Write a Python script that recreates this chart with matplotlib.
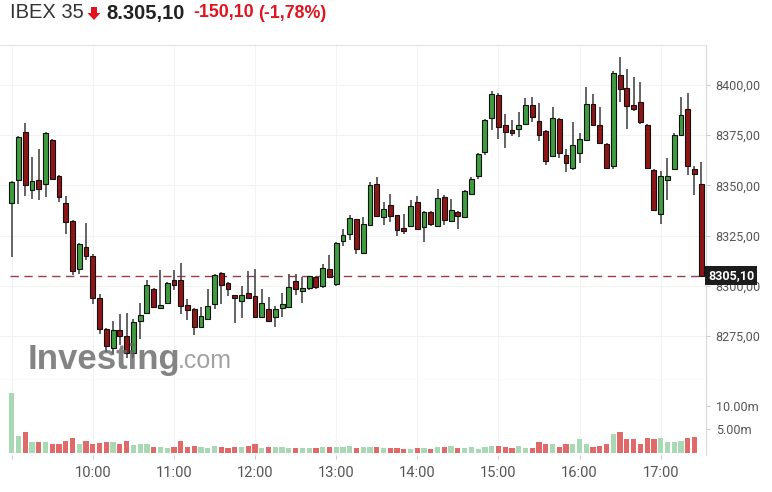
import numpy as np
import matplotlib
matplotlib.use("Agg")
import matplotlib.pyplot as plt
from matplotlib.patches import Polygon
from matplotlib.ticker import FuncFormatter

# 5-minute candles, 09:00 -> 17:30
opens = [8341, 8352.5, 8376.5, 8347.5, 8352.5, 8350.5, 8372.5, 8354.5, 8341, 8332.5,
         8308.5, 8319.5, 8315, 8294, 8278.5, 8269, 8278, 8275, 8266.5, 8282.5,
         8286.5, 8298.5, 8289, 8291.5, 8303, 8303, 8290.5, 8288.5, 8279.5, 8283.5,
         8291, 8306.5, 8301.5, 8295.5, 8292.5, 8296.5, 8295, 8284.5, 8288.5, 8284.5,
         8289, 8289.5, 8302.5, 8297.5, 8299, 8304.5, 8300, 8308.5, 8301, 8322.5,
         8326, 8333.5, 8316.5, 8330.5, 8350.5, 8334.5, 8340, 8335.5, 8329, 8330,
         8341.5, 8329.5, 8336.5, 8330, 8344, 8332.5, 8336.5, 8334.5, 8345.5, 8354.5,
         8366.5, 8383.5, 8395, 8380, 8377.5, 8378, 8380.5, 8390, 8382, 8377,
         8364.5, 8383, 8365, 8358.5, 8366, 8372.5, 8390.5, 8380, 8370.5, 8359.5,
         8405, 8398.5, 8390, 8391.5, 8380, 8357.5, 8336, 8352.5, 8358, 8375,
         8388, 8358, 8350.5]
highs = [8352, 8374.5, 8381, 8364, 8368, 8376.5, 8373, 8355, 8344.5, 8333,
         8321.5, 8331.5, 8316, 8296, 8279, 8282.5, 8286, 8286.5, 8283.5, 8291.5,
         8303, 8299, 8308, 8302, 8308, 8311.5, 8293.5, 8289, 8289.5, 8298.5,
         8306, 8307, 8302, 8295.5, 8300, 8307.5, 8308.5, 8298.5, 8294.5, 8290,
         8296.5, 8306, 8306, 8304.5, 8305, 8305, 8311, 8315.5, 8322, 8328.5,
         8335.5, 8333.5, 8334.5, 8351.5, 8354, 8341.5, 8345.5, 8335.5, 8336, 8342.5,
         8344.5, 8337, 8337, 8348, 8345, 8343, 8337, 8347.5, 8354, 8366,
         8383, 8397, 8396, 8385.5, 8382.5, 8386.5, 8393.5, 8394, 8391, 8377.5,
         8389, 8383.5, 8368, 8381.5, 8376, 8399, 8395.5, 8389, 8371, 8407,
         8414, 8408, 8404, 8401.5, 8380.5, 8358, 8357, 8363.5, 8376, 8394,
         8396, 8359.5, 8361.5]
lows = [8314.5, 8340.5, 8344.5, 8343, 8342.5, 8344, 8352.5, 8341.5, 8326, 8305.5,
        8306, 8313, 8291, 8276, 8267, 8266, 8270.5, 8264, 8264, 8273.5,
        8286, 8289, 8289, 8291, 8298, 8286, 8283, 8275.5, 8279, 8283,
        8288.5, 8291, 8295, 8281.5, 8284, 8293.5, 8284, 8284, 8282, 8279.5,
        8284.5, 8289, 8295.5, 8291.5, 8298, 8298.5, 8299, 8304, 8300, 8320,
        8323, 8316, 8316, 8330, 8334.5, 8330.5, 8332, 8325, 8326, 8329.5,
        8328, 8322, 8330, 8330, 8330.5, 8332, 8328.5, 8334, 8345, 8353,
        8365, 8377.5, 8373, 8368.5, 8374.5, 8374, 8380, 8381.5, 8372, 8360,
        8364, 8363.5, 8356.5, 8357.5, 8361, 8372, 8379.5, 8370.5, 8358, 8358,
        8391.5, 8378, 8387, 8380.5, 8358, 8337, 8331, 8342.5, 8357.5, 8374.5,
        8355, 8345, 8305]
closes = [8351.5, 8374, 8350, 8352, 8348, 8376, 8353, 8344, 8332, 8307.5,
          8321, 8315, 8294, 8278.5, 8270, 8278, 8275, 8266.5, 8282, 8285.5,
          8300.5, 8289.5, 8290.5, 8301.5, 8300.5, 8290, 8288, 8279.5, 8285, 8290,
          8305.5, 8300.5, 8298.5, 8294, 8295.5, 8294, 8284.5, 8291.5, 8282.5, 8288.5,
          8291, 8299.5, 8298.5, 8299, 8305, 8299.5, 8309, 8304.5, 8321.5, 8325.5,
          8334, 8318.5, 8331, 8350, 8335, 8338, 8335, 8328, 8327.5, 8339.5,
          8328.5, 8336.5, 8331, 8343.5, 8333, 8337.5, 8335, 8347, 8353, 8365.5,
          8382.5, 8395.5, 8379, 8376.5, 8376, 8380, 8390, 8384, 8375, 8362,
          8383.5, 8366, 8361, 8370, 8373, 8390.5, 8380, 8371, 8358.5, 8406,
          8398, 8389.5, 8388, 8381.5, 8358.5, 8337.5, 8354.5, 8354.5, 8375, 8385,
          8359.5, 8355.5, 8305.1]
# volume in millions (no bar yet for the last, running candle)
volumes = [12.6, 3.6, 4.4, 2.3, 2.3, 2.3, 2.0, 1.9, 2.6, 3.1,
           1.8, 2.6, 2.0, 2.1, 2.3, 2.3, 1.9, 2.6, 1.6, 1.8,
           1.8, 1.3, 1.2, 1.0, 1.3, 2.6, 1.3, 1.5, 1.3, 1.1,
           1.5, 1.3, 1.1, 1.3, 1.3, 1.5, 1.8, 1.0, 1.3, 1.3,
           1.3, 1.0, 1.0, 1.0, 1.0, 1.0, 1.3, 1.3, 1.3, 1.3,
           1.5, 1.0, 1.2, 1.2, 1.3, 1.0, 1.0, 1.0, 0.9, 0.8,
           1.0, 1.0, 0.8, 1.2, 1.3, 1.5, 1.0, 1.0, 1.3, 0.8,
           1.2, 1.5, 1.5, 1.3, 1.0, 1.5, 1.0, 1.0, 2.3, 1.8,
           1.8, 1.3, 2.0, 2.0, 2.9, 2.0, 1.3, 1.5, 1.8, 3.9,
           4.5, 2.9, 2.9, 2.0, 3.1, 2.9, 3.1, 2.3, 2.3, 2.6,
           3.1, 3.3]
hour_labels = ["", "10:00", "11:00", "12:00", "13:00", "14:00", "15:00", "16:00", "17:00"]
last_price = 8305.10
price_ticks = [8275, 8300, 8325, 8350, 8375, 8400]
volume_ticks = [5, 10]

W, H = 772, 492
fig = plt.figure(figsize=(W / 100, H / 100), dpi=100)
fig.patch.set_facecolor("white")

ax = fig.add_axes([0, 1 - 380 / H, 706 / W, 335 / H])
axv = fig.add_axes([0, 1 - 455 / H, 706 / W, 75 / H], sharex=ax)

x = np.arange(len(opens))
o = np.array(opens)
c = np.array(closes)
up = c >= o

# candles
ax.vlines(x, lows, highs, color="#4a4a4a", lw=1.2, zorder=2)
body_bottom = np.minimum(o, c)
body_h = np.maximum(np.abs(c - o), 0.8)
ax.bar(x, body_h, bottom=body_bottom, width=0.72,
       color=np.where(up, "#3f9c3f", "#8e1616"), edgecolor="#111111", lw=0.8, zorder=3)

ax.hlines(last_price, -0.3, x[-1], colors="#9a3a4a", linestyles=(0, (6, 4)), lw=1.0, zorder=1)

# volume
vx = np.arange(len(volumes))
axv.bar(vx, volumes, width=0.78,
        color=np.where(up[:len(volumes)], "#a8d8b4", "#e06a6a"), zorder=2)

x_left = -11.7 / 6.76
x_right = (706 - 11.7) / 6.76
ax.set_xlim(x_left, x_right)
ax.set_ylim(8253.1, 8419.9)
axv.set_ylim(-0.42, 15.37)

for a in (ax, axv):
    a.yaxis.tick_right()
    a.spines["left"].set_visible(False)
    a.spines["right"].set_color("#d9d9d9")
    a.tick_params(axis="y", length=3, color="#cccccc", pad=4)
    a.set_facecolor("white")

ax.spines["top"].set_color("#e3e3e3")
ax.spines["bottom"].set_color("#c8c8c8")
axv.spines["top"].set_visible(False)
axv.spines["bottom"].set_visible(False)

ax.set_yticks(price_ticks)
ax.yaxis.set_major_formatter(FuncFormatter(lambda v, p: f"{v:.2f}".replace(".", ",")))
axv.set_yticks(volume_ticks)
axv.yaxis.set_major_formatter(FuncFormatter(lambda v, p: f"{v:.2f}m"))
for lab in ax.get_yticklabels() + axv.get_yticklabels():
    lab.set_fontfamily("Roboto")
    lab.set_fontsize(9)
    lab.set_color("#555555")

ax.grid(True, color="#f3f3f3", lw=0.8, zorder=0)
axv.grid(True, axis="x", color="#f3f3f3", lw=0.8, zorder=0)
ax.set_axisbelow(True)
axv.set_axisbelow(True)

axv.set_xticks(np.arange(0, 97, 12))
axv.set_xticklabels(hour_labels)
axv.tick_params(axis="x", length=3, color="#cccccc", pad=5)
for lab in axv.get_xticklabels():
    lab.set_fontfamily("Roboto")
    lab.set_fontsize(10.5)
    lab.set_color("#555555")
ax.tick_params(axis="x", length=0, labelbottom=False)

# watermark
ax.text(28 / 706, 1 - (359 - 45) / 335, "Investing", transform=ax.transAxes,
        fontsize=25, fontweight="bold", family="Liberation Sans", color="#666666",
        alpha=0.8, va="center", ha="left", zorder=4)
ax.text(178 / 706, 1 - (361 - 45) / 335, ".com", transform=ax.transAxes,
        fontsize=18, family="Liberation Sans", color="#8a8a8a",
        alpha=0.8, va="center", ha="left", zorder=4)

# last price marker
fig.text(708 / W, 1 - 275.5 / H, "8305,10", fontsize=9, family="Roboto", fontweight="bold",
         color="white", va="center", ha="left",
         bbox=dict(boxstyle="square,pad=0.25", facecolor="#1c1c1c", edgecolor="none"))

# header
ty = 1 - 13 / H
red = "#e0141e"
fig.text(10 / W, ty, "IBEX 35", fontsize=14.5, family="Liberation Sans", color="#333333", va="center")
arrow_px = [(91, 7), (97, 7), (97, 13), (100.5, 13), (94, 20), (87.5, 13), (91, 13)]
fig.patches.append(Polygon([(px / W, 1 - py / H) for px, py in arrow_px], closed=True,
                           transform=fig.transFigure, facecolor=red, edgecolor="none"))
fig.text(106 / W, ty, "8.305,10", fontsize=14.5, family="Liberation Sans", fontweight="bold",
         color="#222222", va="center")
fig.text(193 / W, ty, "-150,10", fontsize=12.8, family="Liberation Sans", fontweight="bold",
         color=red, va="center")
fig.text(258 / W, ty, "(-1,78%)", fontsize=12.8, family="Liberation Sans", fontweight="bold",
         color=red, va="center")

fig.savefig("out.png", dpi=100, facecolor="white")
